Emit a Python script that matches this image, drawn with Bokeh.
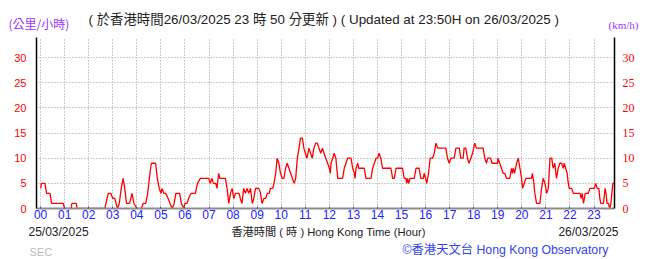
from bokeh.plotting import figure
from bokeh.models import Range1d, LinearAxis, FixedTicker, Label
from bokeh.layouts import column
from bokeh.embed import file_html
from bokeh.resources import INLINE

# ---- data (hour of day, wind speed km/h) ----
hours = [0.00, 0.04, 0.18, 0.25, 0.39, 0.46, 0.94, 1.00, 1.27, 1.30, 1.48, 1.52,
         2.67, 2.81, 2.92, 3.00, 3.08, 3.20, 3.27, 3.35, 3.43, 3.50, 3.57, 3.70,
         3.80, 3.88, 4.00, 4.19, 4.26, 4.37, 4.45, 4.52, 4.60, 4.78, 4.85, 4.93,
         5.00, 5.05, 5.12, 5.20, 5.30, 5.38, 5.47, 5.55, 5.62, 5.78, 5.85, 5.95,
         6.00, 6.08, 6.15, 6.25, 6.43, 6.52, 6.64, 6.99, 7.05, 7.12, 7.18, 7.28,
         7.33, 7.40, 7.45, 7.68, 7.75, 7.82, 7.89, 7.96, 8.03, 8.10, 8.25, 8.30,
         8.37, 8.44, 8.51, 8.58, 8.65, 8.72, 8.80, 8.86, 8.93, 9.07, 9.14, 9.20,
         9.28, 9.35, 9.42, 9.50, 9.55, 9.65, 9.70, 9.77, 9.83, 9.90, 9.97, 10.04,
         10.11, 10.18, 10.25, 10.32, 10.39, 10.46, 10.54, 10.60, 10.67, 10.74, 10.80, 10.88,
         10.94, 11.00, 11.07, 11.15, 11.22, 11.29, 11.36, 11.43, 11.50, 11.57, 11.64, 11.71,
         11.78, 11.85, 11.93, 12.00, 12.04, 12.07, 12.14, 12.20, 12.27, 12.35, 12.55, 12.62,
         12.69, 12.76, 12.90, 12.97, 13.04, 13.07, 13.11, 13.18, 13.22, 13.45, 13.52, 13.73,
         13.80, 13.87, 13.94, 14.00, 14.07, 14.14, 14.21, 14.56, 14.63, 14.70, 14.77, 15.04,
         15.11, 15.18, 15.22, 15.25, 15.30, 15.35, 15.53, 15.60, 15.73, 15.80, 15.90, 15.94,
         16.00, 16.05, 16.12, 16.19, 16.29, 16.36, 16.43, 16.50, 16.84, 16.91, 16.98, 17.05,
         17.19, 17.26, 17.40, 17.46, 17.56, 17.60, 17.67, 17.74, 17.80, 17.88, 17.95, 18.00,
         18.04, 18.11, 18.39, 18.46, 18.53, 18.58, 18.70, 18.76, 18.99, 19.00, 19.08, 19.15,
         19.22, 19.29, 19.36, 19.50, 19.57, 19.61, 19.64, 19.70, 19.78, 19.85, 19.92, 19.99,
         20.03, 20.10, 20.17, 20.40, 20.44, 20.50, 20.54, 20.61, 20.75, 20.82, 20.89, 20.96,
         21.03, 21.10, 21.17, 21.24, 21.30, 21.37, 21.44, 21.51, 21.58, 21.65, 21.72, 21.76,
         21.82, 21.88, 21.93, 21.97, 22.07, 22.14, 22.42, 22.46, 22.51, 22.56, 22.60, 22.63,
         22.76, 22.83, 23.01, 23.07, 23.13, 23.20, 23.24, 23.28, 23.39, 23.46, 23.50, 23.54,
         23.60, 23.65, 23.70, 23.74, 23.78, 23.83]
speeds = [4, 5, 5, 3, 3, 1, 1, 0, 0, 1, 1, 0,
          0, 3, 3, 2, 2, 0, 1, 4, 6, 4, 1, 1,
          3, 1, 0, 0, 1, 1, 3, 6, 9, 9, 6, 4,
          3, 4, 3, 3, 2, 1, 0, 1, 3, 3, 1, 0,
          1, 1, 2, 3, 3, 5, 6, 6, 5, 6, 5, 5,
          4, 7, 6, 6, 4, 1, 3, 4, 2, 3, 3, 2,
          1, 4, 3, 4, 3, 4, 1, 2, 4, 4, 3, 1,
          2, 2, 3, 3, 4, 4, 5, 7, 10, 9, 7, 6,
          6, 8, 9, 8, 7, 6, 5, 6, 10, 12, 14, 14,
          12, 11, 10, 12, 11, 10, 12, 13, 13, 12, 11, 12,
          11, 10, 9, 8, 7, 9, 10, 11, 10, 6, 6, 8,
          9, 10, 10, 8, 7, 6, 8, 9, 8, 8, 6, 6,
          8, 9, 10, 10, 11, 10, 8, 8, 6, 6, 8, 8,
          6, 6, 5, 6, 5, 6, 6, 8, 8, 6, 6, 7,
          6, 5, 7, 10, 10, 11, 13, 12, 12, 10, 9, 10,
          10, 12, 12, 10, 10, 12, 12, 10, 9, 10, 11, 12,
          13, 12, 12, 10, 9, 10, 10, 9, 9, 10, 9, 8,
          7, 7, 6, 6, 8, 7, 8, 7, 9, 10, 8, 6,
          4, 5, 6, 6, 7, 5, 3, 1, 1, 4, 6, 5,
          3, 4, 10, 10, 8, 9, 6, 8, 9, 9, 8, 9,
          8, 7, 5, 4, 4, 3, 3, 2, 3, 1, 2, 3,
          3, 4, 4, 5, 4, 4, 2, 1, 1, 4, 3, 1,
          1, 0, 1, 3, 5, 5]

hour_ticks = list(range(24))
hour_labels = ["00", "01", "02", "03", "04", "05", "06", "07", "08", "09", "10", "11",
               "12", "13", "14", "15", "16", "17", "18", "19", "20", "21", "22", "23"]
speed_ticks = [0, 5, 10, 15, 20, 25, 30]

title_text = "( 於香港時間26/03/2025 23 時 50 分更新 ) ( Updated at 23:50H on 26/03/2025 )"
unit_zh = "(公里/小時)"
unit_en = "(km/h)"
date_start = "25/03/2025"
date_end = "26/03/2025"
axis_title = "香港時間 ( 時 ) Hong Kong Time (Hour)"
credit = "©香港天文台 Hong Kong Observatory"
sec_text = "SEC"

# ---- layout ----
W = 655
X0, X1 = -0.17, 23.85
Y0, Y1 = 0, 34
FL, FR, FT, FB = 36, 614, 37, 208
MID_BOTTOM = 224

SANS = "Liberation Sans, Noto Sans CJK TC"
CJK = "Noto Sans CJK TC, Liberation Sans"
SERIF = "Liberation Serif"


def text_strip(top, bottom):
    f = figure(width=W, height=bottom - top, x_range=Range1d(0, W),
               y_range=Range1d(bottom, top), output_backend="svg",
               toolbar_location=None, x_axis_location=None, y_axis_location=None,
               min_border=0, min_border_left=0, min_border_right=0,
               min_border_top=0, min_border_bottom=0, frame_align=False)
    f.outline_line_color = None
    f.grid.visible = False
    f.border_fill_color = "white"
    f.background_fill_color = "white"
    return f


def add_label(f, text, px, py, font, size, color, align="left"):
    f.add_layout(Label(x=px, y=py, text=text, text_font=font, text_font_size=size,
                       text_color=color, text_align=align, text_baseline="middle"))


# top strip
top = text_strip(0, FT)
add_label(top, unit_zh, 8, 23, CJK, "12px", "#9933ff")
add_label(top, title_text, 88, 19, SANS, "13.4px", "#222222")
add_label(top, unit_en, 608, 24, SERIF, "11px", "#9933ff")

# main plot
p = figure(width=W, height=MID_BOTTOM - FT, x_range=Range1d(X0, X1), y_range=Range1d(Y0, Y1),
           output_backend="svg", toolbar_location=None, frame_align=False,
           min_border_left=FL, min_border_right=W - FR,
           min_border_top=0, min_border_bottom=MID_BOTTOM - FB)
p.outline_line_color = None
p.background_fill_color = "white"
p.border_fill_color = "white"

p.xgrid.ticker = FixedTicker(ticks=hour_ticks)
p.ygrid.ticker = FixedTicker(ticks=speed_ticks[1:])
for g in (p.xgrid, p.ygrid):
    g.grid_line_color = "#9a9a9a"
    g.grid_line_dash = "1 2"
    g.grid_line_width = 1

xa = p.xaxis[0]
xa.ticker = FixedTicker(ticks=hour_ticks)
xa.major_label_overrides = {t: l for t, l in zip(hour_ticks, hour_labels)}
xa.major_label_text_color = "#2222ff"
xa.major_label_text_font = SANS
xa.major_label_text_font_size = "12px"
xa.major_label_standoff = 1
xa.axis_line_color = "#8c8c8c"
xa.axis_line_width = 2
xa.major_tick_line_color = "#555555"
xa.major_tick_in = 2
xa.major_tick_out = 0
xa.minor_tick_line_color = None

ya = p.yaxis[0]
ya.ticker = FixedTicker(ticks=speed_ticks)
ya.major_label_text_color = "#ff0000"
ya.major_label_text_font = SANS
ya.major_label_text_font_size = "11px"
ya.major_label_standoff = 4
ya.axis_line_color = "black"
ya.axis_line_width = 1.5
ya.major_tick_line_color = None
ya.minor_tick_line_color = None

ra = LinearAxis(ticker=FixedTicker(ticks=speed_ticks))
ra.major_label_text_color = "#ff0000"
ra.major_label_text_font = SERIF
ra.major_label_text_font_size = "12px"
ra.major_label_standoff = 2
ra.axis_line_color = "black"
ra.axis_line_width = 1.5
ra.major_tick_line_color = None
ra.minor_tick_line_color = None
p.add_layout(ra, "right")

p.line(hours, speeds, line_color="#ff0000", line_width=1.3)

# bottom strip
bot = text_strip(MID_BOTTOM, 259)
add_label(bot, date_start, 28, 231, SANS, "12px", "#222222")
add_label(bot, axis_title, 328, 231, SANS, "11.2px", "#222222", "center")
add_label(bot, date_end, 618, 231, SANS, "12px", "#222222", "right")
add_label(bot, sec_text, 29, 251, SANS, "11px", "#bbbbbb")
add_label(bot, credit, 402, 249, SANS, "12.3px", "#3344ee")

layout = column(top, p, bot, spacing=0)
open("out.html", "w").write(file_html(layout, INLINE))
